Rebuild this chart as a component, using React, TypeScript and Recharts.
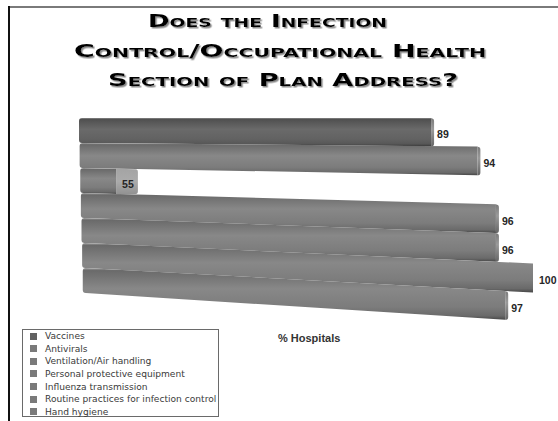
import React from 'react';
import { BarChart, Bar, XAxis, YAxis, LabelList } from 'recharts';

// Plan topics, in drawing order (top to bottom)
const categories = [
  'Vaccines',
  'Antivirals',
  'Ventilation/Air handling',
  'Personal protective equipment',
  'Influenza transmission',
  'Routine practices for infection control',
  'Hand hygiene',
];

// Share of hospitals whose plan addresses each topic
const percentHospitals = [89, 94, 55, 96, 96, 100, 97];

const titleLines = ['Does the Infection', 'Control/Occupational Health', 'Section of Plan Address?'];
const axisTitle = '% Hospitals';

const data = categories.map((name, i) => ({ name, value: percentHospitals[i] }));

const W = 558;
const H = 421;
const MARGIN = { top: 118, right: 25, bottom: 128, left: 79 };
// vertical spread of the bars as they recede to the right
const DEPTH = 0.00036;

const project = (x: number, y: number) =>
  MARGIN.top + (y - MARGIN.top) * (1 + DEPTH * (x - MARGIN.left));

const CylinderBar = (props: any) => {
  const { x, y, width, height, index } = props;
  if (width == null || height == null) return null;
  const x1 = x + width;
  const yTL = project(x, y);
  const yBL = project(x, y + height);
  const yTR = project(x1, y);
  const yBR = project(x1, y + height);
  // the left end drifts slightly right toward the bottom of the stack
  const xl = x + (y - MARGIN.top) * 0.025;
  const face = 3 + Math.max(0, 430 - x1) * 0.06;
  const r = 3;
  const body =
    `M${xl + r},${yTL} L${x1},${yTR} L${x1},${yBR} L${xl + r},${yBL} ` +
    `Q${xl},${yBL} ${xl},${yBL - r} L${xl},${yTL + r} Q${xl},${yTL} ${xl + r},${yTL} Z`;
  const xf = x1 + face;
  const cap =
    `M${x1},${yTR} L${xf - 2},${yTR + 0.5} Q${xf},${yTR + 0.5} ${xf},${yTR + 3.5} ` +
    `L${xf},${yBR - 3} Q${xf},${yBR} ${xf - 2},${yBR} L${x1},${yBR} Z`;
  return (
    <g>
      <path d={body} fill={index === 0 ? 'url(#barDark)' : 'url(#barMid)'} />
      <path d={cap} fill={face > 6 ? 'url(#capLight)' : 'url(#capGrad)'} />
    </g>
  );
};

const ValueLabel = (props: any) => {
  const vb = props.viewBox && props.viewBox.width != null ? props.viewBox : props;
  const { x, y, width, height } = vb;
  const x1 = x + width;
  const cy = project(x1, y + height / 2) + 2.5;
  return (
    <text
      x={x1 + 6}
      y={cy}
      dy="0.35em"
      fontSize={10.5}
      fontWeight="bold"
      fontFamily="'Liberation Sans', Arial, sans-serif"
      fill="#262626"
    >
      {props.value}
    </text>
  );
};

const titleLayout = [
  { x: 148, y: 27, w: 239 },
  { x: 74, y: 57, w: 412 },
  { x: 108, y: 86, w: 350 },
];

export default function App() {
  return (
    <div style={{ position: 'absolute', left: 0, top: 0, width: W, height: H, background: '#fff', overflow: 'hidden' }}>
      <BarChart
        width={W}
        height={H}
        data={data}
        layout="vertical"
        margin={MARGIN}
        barCategoryGap={0}
        style={{ position: 'absolute', left: 0, top: 0 }}
      >
        <defs>
          <linearGradient id="barMid" x1="0" y1="0" x2="0" y2="1">
            <stop offset="0" stopColor="#a0a0a0" />
            <stop offset="0.05" stopColor="#6a6a6a" />
            <stop offset="0.4" stopColor="#888888" />
            <stop offset="0.75" stopColor="#7c7c7c" />
            <stop offset="0.92" stopColor="#6a6a6a" />
            <stop offset="1" stopColor="#474747" />
          </linearGradient>
          <linearGradient id="barDark" x1="0" y1="0" x2="0" y2="1">
            <stop offset="0" stopColor="#8a8a8a" />
            <stop offset="0.05" stopColor="#505050" />
            <stop offset="0.4" stopColor="#6a6a6a" />
            <stop offset="0.75" stopColor="#626262" />
            <stop offset="0.92" stopColor="#575757" />
            <stop offset="1" stopColor="#3a3a3a" />
          </linearGradient>
          <linearGradient id="capGrad" x1="0" y1="0" x2="0" y2="1">
            <stop offset="0" stopColor="#7a7a7a" />
            <stop offset="0.4" stopColor="#9a9a9a" />
            <stop offset="1" stopColor="#666666" />
          </linearGradient>
          <linearGradient id="capLight" x1="0" y1="0" x2="0" y2="1">
            <stop offset="0" stopColor="#a4a4a4" />
            <stop offset="0.5" stopColor="#ababab" />
            <stop offset="1" stopColor="#929292" />
          </linearGradient>
        </defs>
        <XAxis type="number" domain={[51, 100]} allowDataOverflow hide />
        <YAxis type="category" dataKey="name" hide />
        <Bar dataKey="value" shape={CylinderBar} isAnimationActive={false}>
          <LabelList dataKey="value" content={ValueLabel} />
        </Bar>
      </BarChart>

      {/* frame */}
      <div style={{ position: 'absolute', left: 8, top: 6, width: W - 8, height: 1.5, background: '#7a7a7a' }} />
      <div style={{ position: 'absolute', left: 8, top: 6, width: 1.6, height: H - 6, background: '#111' }} />

      {/* title */}
      <svg width={W} height={110} style={{ position: 'absolute', left: 0, top: 0 }}>
        <defs>
          <filter id="titleShadow" x="-5%" y="-20%" width="110%" height="160%">
            <feDropShadow dx="1.5" dy="1.5" stdDeviation="0.4" floodColor="#8a8a8a" floodOpacity="1" />
          </filter>
        </defs>
        {titleLines.map((line, i) => (
          <text
            key={line}
            x={titleLayout[i].x}
            y={titleLayout[i].y}
            textLength={titleLayout[i].w}
            lengthAdjust="spacingAndGlyphs"
            fontFamily="'DejaVu Sans', sans-serif"
            fontWeight="bold"
            fontSize={18}
            style={{ fontVariant: 'small-caps' }}
            fill="#000"
            filter="url(#titleShadow)"
          >
            {line}
          </text>
        ))}
      </svg>

      {/* axis title */}
      <div
        style={{
          position: 'absolute',
          left: 278,
          top: 331,
          fontFamily: "'Liberation Sans', Arial, sans-serif",
          fontWeight: 'bold',
          fontSize: 11,
          color: '#333',
          lineHeight: '14px',
          whiteSpace: 'nowrap',
        }}
      >
        {axisTitle}
      </div>

      {/* legend */}
      <div
        style={{
          position: 'absolute',
          left: 22,
          top: 329,
          width: 197,
          height: 88,
          border: '1px solid #6a6a6a',
          boxSizing: 'border-box',
          paddingTop: 0,
        }}
      >
        {categories.map((c, i) => (
          <div
            key={c}
            style={{
              position: 'relative',
              height: 12.67,
              lineHeight: '12.67px',
              fontFamily: "'DejaVu Sans', sans-serif",
              fontSize: 9.1,
              color: '#3a3a3a',
              whiteSpace: 'nowrap',
              paddingLeft: 22,
            }}
          >
            <span
              style={{
                position: 'absolute',
                left: 7,
                top: 2.5,
                width: 7,
                height: 7,
                background: i === 0 ? '#626262' : '#7a7a7a',
              }}
            />
            {c}
          </div>
        ))}
      </div>
    </div>
  );
}
